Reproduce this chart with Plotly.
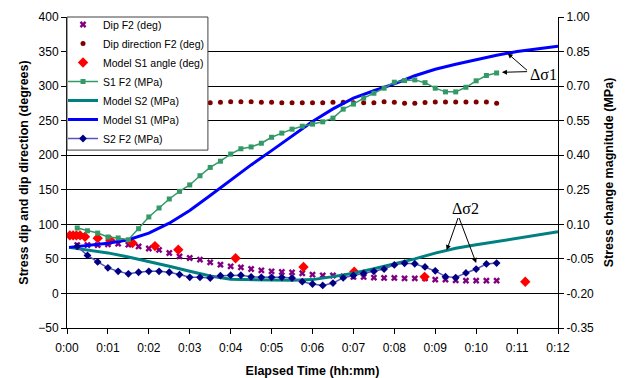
import plotly.graph_objects as go

# ---------------- data ----------------
obs_time = [0.25, 0.5, 0.75, 1.0, 1.25, 1.5, 1.75, 2.0, 2.25, 2.5, 2.75, 3.0, 3.25, 3.5,
            3.75, 4.0, 4.25, 4.5, 4.75, 5.0, 5.25, 5.5, 5.75, 6.0, 6.25, 6.5, 6.75, 7.0,
            7.25, 7.5, 7.75, 8.0, 8.25, 8.5, 8.75, 9.0, 9.25, 9.5, 9.75, 10.0, 10.25, 10.5]

dip_f2 = [70, 70, 70, 71, 72, 70.5, 68, 65, 63, 58.5, 53.6, 51.3, 48.9, 45,
          41.6, 39.2, 37.7, 35.4, 33.4, 32, 31.1, 30.5, 29.2, 27.2, 26.2, 26, 24.7, 23.9,
          23.9, 22.9, 22.4, 22.4, 21.8, 21.8, 22, 20, 20, 19, 18.5, 18.5, 18.5, 18.5]

dipdir_time = [3.5, 3.75, 4.0, 4.25, 4.5, 4.75, 5.0, 5.25, 5.5, 5.75, 6.0, 6.25, 6.5, 6.75,
               7.0, 7.25, 7.5, 7.75, 8.0, 8.25, 8.5, 8.75, 9.0, 9.25, 9.5, 9.75, 10.0,
               10.25, 10.5]
dipdir_f2 = [276, 276.5, 277.4, 277.4, 277.4, 276.5, 276.5, 276, 276, 276, 276, 276, 276.5,
             276.5, 276, 276, 276, 277.4, 276.7, 275.3, 275.3, 276.2, 277, 277, 277, 277,
             277, 277, 275.3]

angle_time = [0.07, 0.15, 0.23, 0.32, 0.44, 0.75, 1.06, 1.6, 2.15, 2.72, 4.12, 5.78, 7.02,
              8.74, 11.2]
model_s1_angle = [84, 84, 84, 84, 82, 80, 77, 73, 68.5, 63.3, 51, 38.3, 31.5, 24, 17]

s1_f2 = [0.084, 0.072, 0.062, 0.045, 0.041, 0.033, 0.081, 0.132, 0.171, 0.210, 0.243,
         0.271, 0.311, 0.347, 0.374, 0.405, 0.428, 0.436, 0.452, 0.478, 0.496, 0.513,
         0.526, 0.535, 0.545, 0.561, 0.600, 0.622, 0.648, 0.669, 0.691, 0.717, 0.724,
         0.727, 0.715, 0.691, 0.675, 0.675, 0.695, 0.723, 0.746, 0.757]

s2_f2 = [0.004, -0.035, -0.063, -0.089, -0.104, -0.115, -0.108, -0.104, -0.104, -0.108,
         -0.118, -0.130, -0.130, -0.133, -0.123, -0.121, -0.121, -0.128, -0.130, -0.130,
         -0.130, -0.133, -0.149, -0.159, -0.165, -0.155, -0.132, -0.122, -0.113, -0.104,
         -0.094, -0.076, -0.069, -0.071, -0.085, -0.102, -0.127, -0.131, -0.111, -0.094,
         -0.072, -0.068]

model_time = [0.05, 0.5, 1.0, 1.5, 2.0, 2.5, 3.0, 3.5, 4.0, 4.5, 5.0, 5.5, 6.0, 6.5, 7.0,
              7.5, 8.0, 8.5, 9.0, 9.5, 10.0, 10.5, 11.0, 11.5, 12.0]
model_s1 = [0.000, 0.007, 0.018, 0.033, 0.062, 0.105, 0.160, 0.225, 0.292, 0.358, 0.420,
            0.485, 0.546, 0.601, 0.648, 0.680, 0.710, 0.745, 0.773, 0.795, 0.815, 0.834,
            0.850, 0.862, 0.873]
model_s2 = [0.000, -0.011, -0.024, -0.042, -0.061, -0.082, -0.104, -0.124, -0.138, -0.141,
            -0.142, -0.143, -0.140, -0.127, -0.112, -0.093, -0.072, -0.050, -0.025, -0.004,
            0.011, 0.025, 0.040, 0.054, 0.068]

x_tick_vals = [0, 1, 2, 3, 4, 5, 6, 7, 8, 9, 10, 11, 12]
x_tick_labels = ["0:00", "0:01", "0:02", "0:03", "0:04", "0:05", "0:06", "0:07", "0:08",
                 "0:09", "0:10", "0:11", "0:12"]
left_ticks = [-50, 0, 50, 100, 150, 200, 250, 300, 350, 400]
right_ticks = [-0.35, -0.20, -0.05, 0.10, 0.25, 0.40, 0.55, 0.70, 0.85, 1.00]
right_tick_labels = ["-0.35", "-0.20", "-0.05", "0.10", "0.25", "0.40", "0.55", "0.70",
                     "0.85", "1.00"]

FONT = "Liberation Sans, Arial, sans-serif"
SERIF = "Liberation Serif, Times New Roman, serif"

fig = go.Figure()

fig.add_trace(go.Scatter(
    x=obs_time, y=dip_f2, mode="markers", name="Dip F2 (deg)", legendrank=1,
    marker=dict(symbol="x", size=6, color="#800080")))
fig.add_trace(go.Scatter(
    x=dipdir_time, y=dipdir_f2, mode="markers", name="Dip direction F2 (deg)", legendrank=2,
    marker=dict(symbol="circle", size=5, color="#800000")))
fig.add_trace(go.Scatter(
    x=angle_time, y=model_s1_angle, mode="markers", name="Model S1 angle (deg)", legendrank=3,
    marker=dict(symbol="diamond", size=8, color="#FF0000")))

fig.add_trace(go.Scatter(
    x=model_time, y=model_s2, mode="lines", name="Model S2 (MPa)", yaxis="y2", legendrank=5,
    line=dict(color="#008080", width=3)))
fig.add_trace(go.Scatter(
    x=model_time, y=model_s1, mode="lines", name="Model S1 (MPa)", yaxis="y2", legendrank=6,
    line=dict(color="#0000FF", width=3)))
fig.add_trace(go.Scatter(
    x=obs_time, y=s1_f2, mode="lines+markers", name="S1 F2 (MPa)", yaxis="y2", legendrank=4,
    line=dict(color="#339966", width=1.5),
    marker=dict(symbol="square", size=5, color="#339966")))
fig.add_trace(go.Scatter(
    x=obs_time, y=s2_f2, mode="lines+markers", name="S2 F2 (MPa)", yaxis="y2", legendrank=7,
    line=dict(color="#5555BB", width=1.5),
    marker=dict(symbol="diamond", size=6, color="#000080")))

# annotations (arrows + labels)
arrow = dict(showarrow=True, arrowhead=2, arrowsize=1, arrowwidth=1, arrowcolor="black",
             standoff=0, startstandoff=0, text="", xref="x", yref="y2", axref="x", ayref="y2")
fig.add_annotation(x=10.77, y=0.842, ax=11.28, ay=0.763, **arrow)
fig.add_annotation(x=10.63, y=0.760, ax=11.28, ay=0.763, **arrow)
fig.add_annotation(x=9.28, y=-0.012, ax=9.57, ay=0.134, **arrow)
fig.add_annotation(x=10.0, y=-0.068, ax=9.57, ay=0.134, **arrow)
fig.add_annotation(x=11.64, y=0.749, xref="x", yref="y2", text="Δσ1", showarrow=False,
                   font=dict(family=SERIF, size=16, color="black"))
fig.add_annotation(x=9.73, y=0.168, xref="x", yref="y2", text="Δσ2", showarrow=False,
                   font=dict(family=SERIF, size=16, color="black"))

# legend box (white panel with border, drawn over the plot area)
fig.add_shape(type="rect", xref="paper", yref="paper", x0=0, x1=0.287, y0=0.572, y1=1,
              fillcolor="white", line=dict(color="#404040", width=1), layer="above")

fig.update_layout(
    width=626, height=370,
    margin=dict(l=59, r=76, t=9, b=50, autoexpand=False),
    paper_bgcolor="white", plot_bgcolor="white",
    font=dict(family=FONT, size=12, color="black"),
    showlegend=True,
    legend=dict(x=-0.0081, y=1.0225, xanchor="left", yanchor="top",
                bgcolor="rgba(0,0,0,0)", borderwidth=0, itemwidth=30,
                font=dict(family=FONT, size=10.5, color="black"), tracegroupgap=0),
    xaxis=dict(range=[0, 12], tickvals=x_tick_vals, ticktext=x_tick_labels,
               ticks="outside", ticklen=5, tickcolor="black", showline=True,
               linecolor="black", linewidth=1, showgrid=False, zeroline=False,
               automargin=False, ticklabelstandoff=4,
               title=dict(text="<b>Elapsed Time (hh:mm)</b>", font=dict(size=12.5), standoff=14)),
    yaxis=dict(range=[-50, 400], tickvals=left_ticks, ticks="outside", ticklen=5,
               tickcolor="black", showline=True, linecolor="black", linewidth=1,
               showgrid=True, gridcolor="black", gridwidth=1, zeroline=False,
               automargin=False,
               title=dict(text="<b>Stress dip and dip direction (degrees)</b>",
                          font=dict(size=12.5), standoff=6)),
    yaxis2=dict(range=[-0.35, 1.0], tickvals=right_ticks, ticktext=right_tick_labels,
                overlaying="y", side="right", ticks="outside", ticklen=5, tickcolor="black",
                showline=True, linecolor="black", linewidth=1, showgrid=False,
                zeroline=False, automargin=False,
                title=dict(text="<b>Stress change magnitude (MPa)</b>",
                           font=dict(size=12.5), standoff=11)),
)

fig.write_html("out.html")
